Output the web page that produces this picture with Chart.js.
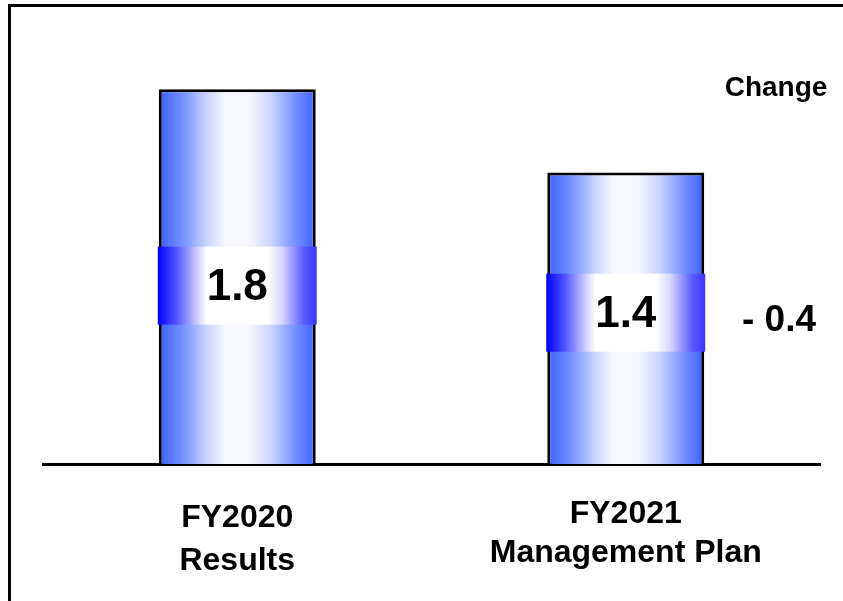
<!DOCTYPE html>
<html>
<head>
<meta charset="utf-8">
<script src="https://cdn.jsdelivr.net/npm/chart.js@4.4.1/dist/chart.umd.min.js"></script>
<style>
  html, body { margin: 0; padding: 0; background: #fff; overflow: hidden; }
  #frame {
    position: absolute; left: 8px; top: 4px; width: 900px; height: 700px;
    border-top: 3px solid #000; border-left: 3px solid #000;
  }
  #chart { position: absolute; left: 0; top: 0; }
</style>
</head>
<body>
<div id="frame"></div>
<canvas id="chart" width="843" height="601"></canvas>
<script>
const categories = [["FY2020", "Results"], ["FY2021", "Management Plan"]];
const values = [1.8, 1.4];
const valueLabels = ["1.8", "1.4"];
const changeTitle = "Change";
const changeLabel = "- 0.4";

const FONT = '"Liberation Sans", Arial, sans-serif';
const BAR_PCT = 0.404;
// label line offsets below the baseline, per category
const labelOffsets = [[54, 97], [50, 89]];
// where the value band sits, as a share of the bar height from its base
const bandPos = [0.476, 0.519];

function barGradient(ctx, left, right) {
  const g = ctx.createLinearGradient(left, 0, right, 0);
  g.addColorStop(0, "rgb(60,96,255)");
  g.addColorStop(0.14, "rgb(110,140,255)");
  g.addColorStop(0.3, "rgb(200,210,255)");
  g.addColorStop(0.42, "rgb(246,247,255)");
  g.addColorStop(0.58, "rgb(246,247,255)");
  g.addColorStop(0.72, "rgb(200,210,255)");
  g.addColorStop(0.88, "rgb(110,140,255)");
  g.addColorStop(1, "rgb(60,96,255)");
  return g;
}

function bandGradient(ctx, left, right) {
  const g = ctx.createLinearGradient(left, 0, right, 0);
  g.addColorStop(0, "rgb(0,0,255)");
  g.addColorStop(0.12, "rgb(85,85,255)");
  g.addColorStop(0.26, "rgb(215,215,255)");
  g.addColorStop(0.31, "rgb(255,255,255)");
  g.addColorStop(0.69, "rgb(255,255,255)");
  g.addColorStop(0.78, "rgb(215,215,255)");
  g.addColorStop(0.92, "rgb(90,90,255)");
  g.addColorStop(1, "rgb(55,55,255)");
  return g;
}

const decorations = {
  id: "decorations",
  afterDatasetsDraw(chart) {
    const ctx = chart.ctx;
    const area = chart.chartArea;
    const meta = chart.getDatasetMeta(0);
    let lastBand = 0;
    ctx.save();
    meta.data.forEach((bar, i) => {
      const half = bar.width / 2;
      const cy = bar.base - (bar.base - bar.y) * bandPos[i];
      lastBand = cy;
      const left = bar.x - half - 1;
      const right = bar.x + half + 1;
      ctx.fillStyle = bandGradient(ctx, left, right);
      ctx.fillRect(left, cy - 39, right - left, 78);

      ctx.fillStyle = "#000";
      ctx.textAlign = "center";
      ctx.textBaseline = "middle";
      ctx.font = "bold 44px " + FONT;
      ctx.fillText(valueLabels[i], bar.x, cy + 2);

      ctx.font = "bold 32px " + FONT;
      categories[i].forEach((line, j) => {
        ctx.fillText(line, bar.x, area.bottom + labelOffsets[i][j]);
      });
    });

    ctx.font = "bold 28px " + FONT;
    ctx.fillText(changeTitle, area.right - 44, 88);
    ctx.font = "bold 37px " + FONT;
    ctx.fillText(changeLabel, area.right - 41, lastBand + 8);
    ctx.restore();
  }
};

new Chart(document.getElementById("chart"), {
  type: "bar",
  data: {
    labels: categories,
    datasets: [{
      data: values,
      backgroundColor: (c) => {
        const chart = c.chart;
        const x = chart.scales.x;
        if (!chart.chartArea || !x) return "rgb(64,100,255)";
        const center = x.getPixelForValue(c.dataIndex);
        const half = (x.width / categories.length) * BAR_PCT / 2;
        return barGradient(chart.ctx, center - half, center + half);
      },
      borderColor: "#000",
      borderWidth: 3,
      borderSkipped: "bottom",
      barPercentage: BAR_PCT,
      categoryPercentage: 1
    }]
  },
  options: {
    responsive: false,
    animation: false,
    layout: { padding: { left: 43, right: 23, top: 6, bottom: 0 } },
    plugins: { legend: { display: false }, tooltip: { enabled: false } },
    scales: {
      x: {
        grid: { display: false },
        border: { display: true, color: "#000", width: 3 },
        ticks: { display: false },
        afterFit(scale) { scale.height = 137; }
      },
      y: { display: false, min: 0, max: 2.2 }
    }
  },
  plugins: [decorations]
});
</script>
</body>
</html>
